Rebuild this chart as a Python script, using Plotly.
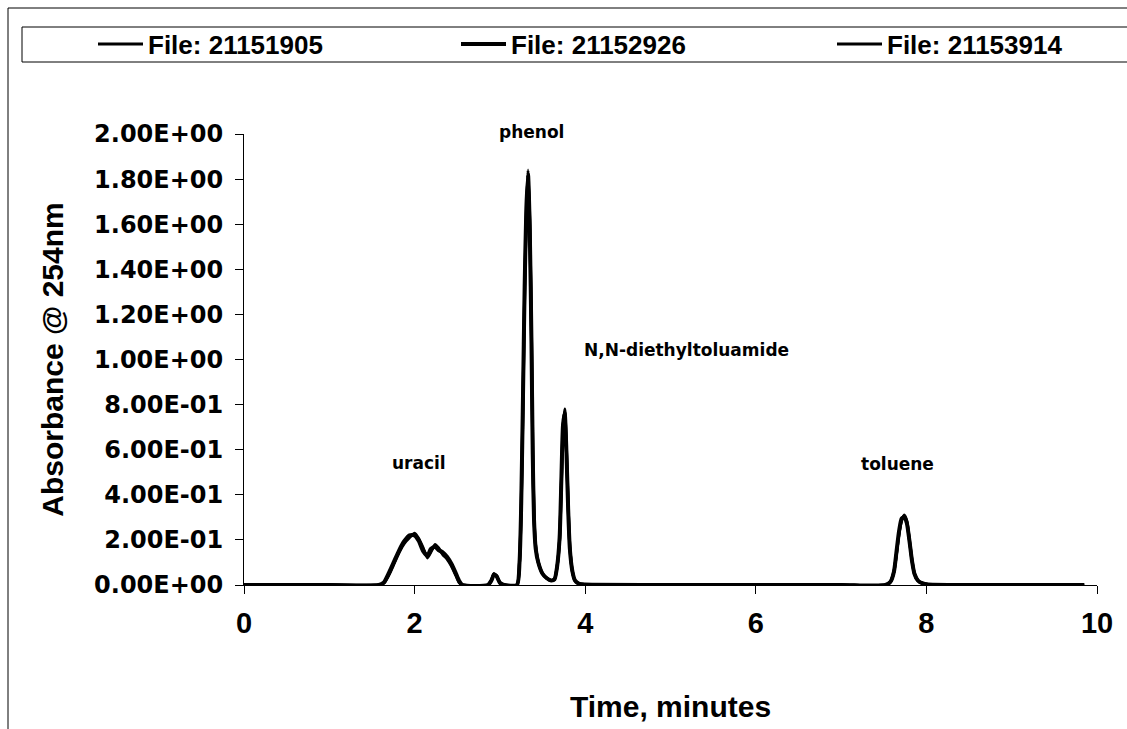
import plotly.graph_objects as go

# ---- data (time in minutes, absorbance @ 254 nm) ----
t_a = [0.0, 1.0, 1.58, 1.64, 1.70, 1.76, 1.82, 1.88, 1.94, 2.00, 2.05, 2.10, 2.15, 2.19,
       2.24, 2.28, 2.33, 2.38, 2.43, 2.48, 2.52, 2.56, 2.86, 2.90, 2.93, 2.96, 3.00, 3.05,
       3.20, 3.23, 3.25, 3.27, 3.29, 3.31, 3.33, 3.35, 3.37, 3.385, 3.40, 3.42, 3.45, 3.50,
       3.55, 3.60, 3.64, 3.67, 3.70, 3.72, 3.74, 3.76, 3.78, 3.80, 3.82, 3.85, 3.88, 3.93,
       4.00, 5.00, 6.00, 7.00, 7.52, 7.58, 7.62, 7.65, 7.68, 7.71, 7.74, 7.77, 7.80, 7.83,
       7.86, 7.90, 7.95, 8.02, 9.00, 9.85]
a_1 = [0.0, 0.0, 0.0, 0.01, 0.05, 0.10, 0.15, 0.19, 0.215, 0.225, 0.20, 0.16, 0.125, 0.15,
       0.175, 0.16, 0.14, 0.12, 0.09, 0.05, 0.015, 0.0, 0.0, 0.02, 0.05, 0.04, 0.01, 0.0,
       0.0, 0.10, 0.35, 0.80, 1.30, 1.65, 1.83, 1.60, 1.10, 0.60, 0.30, 0.17, 0.10, 0.05,
       0.03, 0.02, 0.025, 0.08, 0.20, 0.45, 0.70, 0.77, 0.60, 0.35, 0.17, 0.06, 0.02, 0.005,
       0.002, 0.0, 0.0, 0.0, 0.0, 0.015, 0.06, 0.14, 0.23, 0.29, 0.305, 0.28, 0.20, 0.11,
       0.05, 0.02, 0.008, 0.002, 0.0, 0.0]
a_2 = [0.0, 0.0, 0.0, 0.012, 0.055, 0.105, 0.155, 0.195, 0.22, 0.22, 0.195, 0.15, 0.13, 0.16,
       0.17, 0.155, 0.145, 0.125, 0.095, 0.055, 0.02, 0.0, 0.0, 0.02, 0.045, 0.04, 0.01, 0.0,
       0.0, 0.10, 0.36, 0.82, 1.32, 1.67, 1.82, 1.58, 1.08, 0.58, 0.29, 0.16, 0.10, 0.05,
       0.03, 0.02, 0.025, 0.08, 0.21, 0.46, 0.71, 0.76, 0.59, 0.34, 0.16, 0.06, 0.02, 0.005,
       0.002, 0.0, 0.0, 0.0, 0.0, 0.015, 0.06, 0.15, 0.24, 0.295, 0.30, 0.275, 0.20, 0.11,
       0.05, 0.02, 0.008, 0.002, 0.0, 0.0]
a_3 = [0.0, 0.0, 0.0, 0.008, 0.045, 0.095, 0.145, 0.185, 0.21, 0.23, 0.205, 0.165, 0.12, 0.145,
       0.18, 0.165, 0.135, 0.115, 0.085, 0.045, 0.012, 0.0, 0.0, 0.02, 0.05, 0.04, 0.01, 0.0,
       0.0, 0.10, 0.34, 0.78, 1.28, 1.64, 1.84, 1.62, 1.12, 0.62, 0.31, 0.17, 0.10, 0.05,
       0.03, 0.02, 0.025, 0.08, 0.20, 0.44, 0.69, 0.78, 0.61, 0.36, 0.17, 0.06, 0.02, 0.005,
       0.002, 0.0, 0.0, 0.0, 0.0, 0.015, 0.06, 0.14, 0.23, 0.285, 0.31, 0.285, 0.205, 0.115,
       0.05, 0.02, 0.008, 0.002, 0.0, 0.0]

series_names = ["File: 21151905", "File: 21152926", "File: 21153914"]
series_vals = [a_1, a_2, a_3]
series_widths = [3, 4, 3]

y_tick_vals = [0.0, 0.2, 0.4, 0.6, 0.8, 1.0, 1.2, 1.4, 1.6, 1.8, 2.0]
y_tick_text = ["0.00E+00", "2.00E-01", "4.00E-01", "6.00E-01", "8.00E-01", "1.00E+00",
               "1.20E+00", "1.40E+00", "1.60E+00", "1.80E+00", "2.00E+00"]
x_tick_vals = [0, 2, 4, 6, 8, 10]

peak_labels = ["uracil", "phenol", "N,N-diethyltoluamide", "toluene"]
peak_label_x = [2.05, 3.37, 5.19, 7.66]
peak_label_y = [0.54, 2.01, 1.04, 0.535]

# ---- figure ----
W, H = 1127, 729
L, R, T, B = 244, 30, 134, 144
pw, ph = W - L - R, H - T - B
Y_MAX = 2.0


def px(xp):
    return (xp - L) / pw


def py(yp):
    return (H - B - yp) / ph


bold_arial = dict(family="Liberation Sans, Arial, sans-serif", color="black", weight="bold")
bold_dv = dict(family="DejaVu Sans, sans-serif", color="black", weight="bold")

legend_ids = ["legend", "legend2", "legend3"]
legend_text_px = [150, 513, 889]

fig = go.Figure()
for name, vals, w, lid in zip(series_names, series_vals, series_widths, legend_ids):
    fig.add_trace(go.Scatter(x=t_a, y=vals, mode="lines", name=name, legend=lid,
                             line=dict(color="black", width=w, shape="spline", smoothing=0.6)))

for txt, x, y in zip(peak_labels, peak_label_x, peak_label_y):
    fig.add_annotation(x=x, y=y / Y_MAX, text=txt, showarrow=False, xref="x", yref="paper",
                       xanchor="center", yanchor="middle",
                       font=dict(size=17, **bold_dv))

# outer frame and legend box
fig.add_shape(type="rect", xref="paper", yref="paper", x0=px(8), x1=px(1140), y0=py(740), y1=py(8),
              line=dict(color="black", width=1), fillcolor="rgba(0,0,0,0)", layer="below")
fig.add_shape(type="rect", xref="paper", yref="paper", x0=px(22), x1=px(1140), y0=py(62), y1=py(27),
              line=dict(color="black", width=1), fillcolor="rgba(0,0,0,0)", layer="below")

legend_common = dict(orientation="h", xanchor="left", yanchor="middle", y=py(44),
                     bgcolor="rgba(0,0,0,0)", borderwidth=0,
                     font=dict(size=26, **bold_arial), itemwidth=45)

layout_legends = {}
for lid, tx in zip(legend_ids, legend_text_px):
    layout_legends[lid] = dict(x=px(tx - 57), **legend_common)

fig.update_layout(
    width=W, height=H,
    margin=dict(l=L, r=R, t=T, b=B, pad=0),
    paper_bgcolor="white", plot_bgcolor="white",
    showlegend=True,
    xaxis=dict(range=[0, 10], tickvals=x_tick_vals, showgrid=False, zeroline=False,
               showline=True, linecolor="black", linewidth=1, ticks="outside", ticklen=8,
               tickcolor="black", tickfont=dict(size=29, **bold_arial), ticklabelstandoff=4,
               title=dict(text="Time, minutes", font=dict(size=30, **bold_arial), standoff=58)),
    yaxis=dict(range=[0, Y_MAX], tickvals=y_tick_vals, ticktext=y_tick_text, showgrid=False,
               zeroline=False, showline=True, linecolor="black", linewidth=1, ticks="outside",
               ticklen=8, tickcolor="black", tickfont=dict(size=24, **bold_dv),
               ticklabelstandoff=7,
               title=dict(text="Absorbance @ 254nm", font=dict(size=30, **bold_arial), standoff=21)),
    **layout_legends,
)
fig.update_traces(cliponaxis=False)

fig.write_html("out.html")
